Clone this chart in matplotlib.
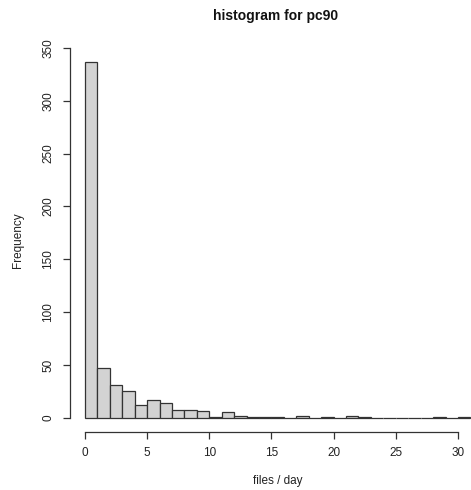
import numpy as np
import matplotlib
matplotlib.use("Agg")
import matplotlib.pyplot as plt

# ── Data (counts per 1-unit bin) ──────────────────────────────────────────────
bin_edges = list(range(0, 32))
counts = [337, 47, 31, 25, 12, 17, 14, 7, 7, 6, 1, 5, 2, 1, 1, 1,
          0, 2, 0, 1, 0, 2, 1, 0, 0, 0, 0, 0, 1, 0, 1]
x_ticks = [0, 5, 10, 15, 20, 25, 30]
y_ticks = [0, 50, 100, 150, 200, 250, 300, 350]

plt.rcParams["font.family"] = ["Liberation Sans", "DejaVu Sans"]
text_col = "#222222"

# ── Plot ──────────────────────────────────────────────────────────────────────
fig = plt.figure(figsize=(4.71, 4.90), dpi=100)
# R-style plot region; right side runs past the figure edge (cropped screenshot)
ax = fig.add_axes([69.5 / 471, 58 / 490, 416.3 / 471, 384.6 / 490])

left = np.array(bin_edges[:-1])
ax.bar(left, counts, width=1, align="edge", color="#d3d3d3",
       edgecolor="#333333", linewidth=0.9)

lo, hi = bin_edges[0], bin_edges[-1]
ax.set_xlim(lo - 0.04 * (hi - lo), hi + 0.04 * (hi - lo))
ymax = max(counts)
ax.set_ylim(-0.04 * ymax, ymax * 1.04)

for s in ["top", "right"]:
    ax.spines[s].set_visible(False)
ax.spines["left"].set_bounds(y_ticks[0], y_ticks[-1])
ax.spines["bottom"].set_bounds(x_ticks[0], x_ticks[-1])
for s in ["left", "bottom"]:
    ax.spines[s].set_color("#333333")
    ax.spines[s].set_linewidth(0.9)

ax.set_xticks(x_ticks)
ax.set_yticks(y_ticks)
ax.set_yticklabels([str(v) for v in y_ticks], rotation=90, va="center")
ax.tick_params(axis="both", direction="out", length=5, width=0.9,
               color="#333333", labelsize=8.5, labelcolor=text_col, pad=6)

ax.set_xlabel("files / day", fontsize=8.5, color=text_col, labelpad=11)
ax.set_ylabel("Frequency", fontsize=8.5, color=text_col, labelpad=13)
fig.text(276 / 471, 1 - 16 / 490, "histogram for pc90", ha="center", va="center",
         fontsize=10, fontweight="bold", color="#111111")

fig.savefig("out.png", dpi=100)
